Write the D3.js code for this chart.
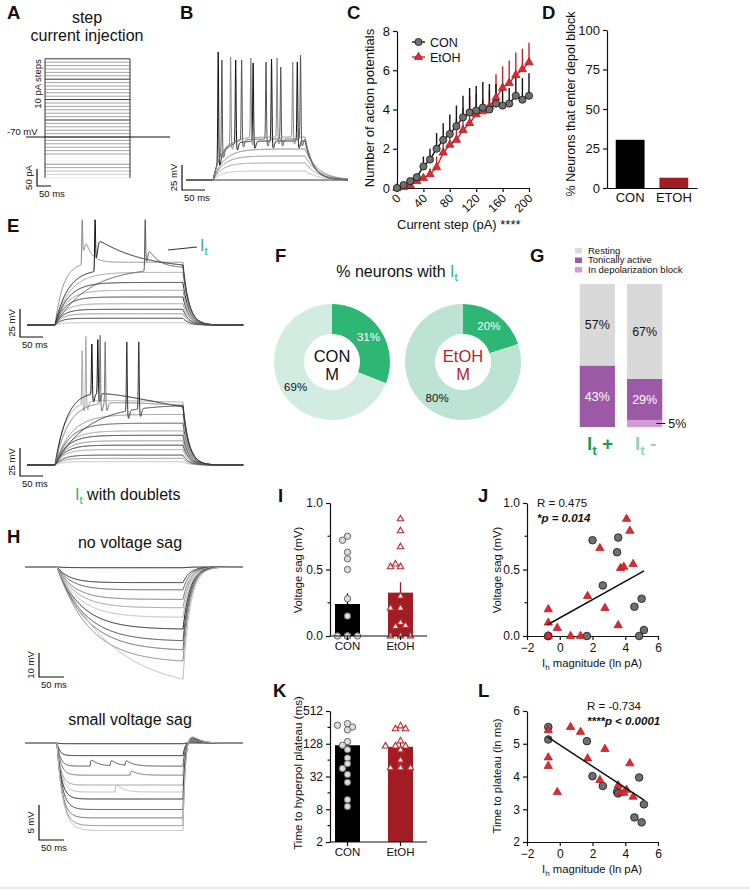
<!DOCTYPE html>
<html>
<head>
<meta charset="utf-8">
<script src="https://cdnjs.cloudflare.com/ajax/libs/d3/7.8.5/d3.min.js"></script>
<style>
  body { margin: 0; background: #fff; }
</style>
</head>
<body>
<script>
// ---------------- DATA ----------------
// A: step protocol (pA relative to holding)
var stepCurrents = [-120,-110,-100,-90,-80,-70,-60,-50,-40,-30,-20,-10,0,10,20,30,40,50,60,70,80,90,100,110,120,130,140,150,160,170,180,190,200,210,220,230];

// B: example firing traces (mV above rest, ms)
var bRestLevels = [0, 9, 17, 24, 31];
var bRestTau = [10, 18, 20, 22, 24];
var bFireLevels = [39, 41, 43];
var bFireTau = [18, 18, 20];
var bSpikeTimes = [[70, 108, 146, 186, 242], [78, 121, 174, 206, 249], [97, 141, 198, 232]];
var bSpikePeaks = [[128, 120, 117, 121, 118], [120, 120, 118, 113, 125], [123, 122, 122, 118]];

// C: number of action potentials per current step
var currentSteps = [0,10,20,30,40,50,60,70,80,90,100,110,120,130,140,150,160,170,180,190,200];
var conAP = [0,0.15,0.35,0.55,1.1,1.45,2.0,2.45,2.75,3.15,3.6,3.85,3.95,4.1,4.0,4.3,4.2,4.3,4.7,4.5,4.7];
var conAPsem = [0,0.05,0.15,0.15,0.5,0.55,0.8,0.85,1.0,1.05,1.1,1.25,1.25,1.3,1.3,1.0,1.1,0.8,1.2,1.1,1.15];
var etohAP = [0,0.05,0.15,0.35,0.5,0.7,1.05,1.8,2.2,2.45,2.95,3.3,3.75,3.9,4.15,4.6,5.1,5.35,5.75,6.05,6.4];
var etohAPsem = [0,0.05,0.1,0.15,0.2,0.3,0.55,0.8,0.8,1.05,1.15,1.4,1.05,0.6,0.85,1.2,1.1,1.15,1.15,1.05,1.0];

// D: depolarization block
var depolGroups = ["CON", "ETOH"];
var depolPct = [30.5, 6.5];

// E: It traces
var eTopLevels = [2, 6, 10, 14, 19, 25, 31, 38, 47];
var eTopTau = [12, 14, 16, 18, 20, 22, 25, 28, 32];
var eItLevels = [56, 50, 52];
var eItTau = [18, 28, 75];
var eItSpike = [120, 148, 257];
var eItPeak = [94, 94, 94];
var eItHump = [36, 30, 26];
var eItHumpDecay = [14, 90, 25];
var eBotLevels = [3, 6, 9, 14, 18, 22, 27, 31, 38, 46];
var eBotTau = [14, 16, 18, 20, 22, 24, 26, 28, 31, 35];
var eDblLevels = [60, 75, 60, 55];
var eDblTau = [22, 28, 30, 70];
var eDblSlope = [-0.01, -0.08, -0.02, 0];
var eDblSpikes = [[120, 128], [141, 154], [159, 170], [217, 243]];
var eDblPeaks = [[104, 118], [110, 114], [118, 112], [112, 112]];

// F: % neurons with It
var itGroups = ["CON", "EtOH"];
var itPct = [31, 20];

// G: firing state by It
var stateNames = ["Resting", "Tonically active", "In depolarization block"];
var itPlusPct = [57, 43, 0];
var itMinusPct = [67, 29, 5];

// H: hyperpolarizing steps (mV relative to rest)
var hTopLevels = [-0.3, -6.5, -9.5, -13.5, -17, -21, -26, -31, -35, -40, -52];
var hTopTau = [20, 25, 30, 35, 40, 45, 50, 55, 60, 65, 110];
var hBotLevels = [-0.1, -1.8, -3.3, -4.6, -6.0, -7.0, -8.0, -9.5, -10.7, -11.8, -12.5];
var hBotTau = [5, 6, 7, 8, 8, 9, 9, 10, 10, 11, 12];
var hBotRebound = [0, 0.3, 0.5, 0.6, 0.8, 0.9, 1.0, 1.2, 1.3, 1.4, 1.5];
var hBotBumps = [[], [], [[130, 1.2], [170, 1.0], [200, 0.9]], [[210, 0.8]], [], [[180, 1.4]], [], [], [], [], []];

// I: voltage sag (mV)
var sagCON = [0.75, 0.72, 0.63, 0.58, 0.5, 0.28, 0.15, 0, 0, 0, 0, 0, 0, 0, 0];
var sagEtOH = [0.88, 0.79, 0.67, 0.52, 0.52, 0.54, 0.30, 0.21, 0.21, 0.10, 0.07, 0.08, 0, 0, 0];

// J / L: Ih magnitude (ln pA) vs sag and ln time to plateau
var ihCON = [-0.7, -0.7, 1.66, 2.0, 2.63, 3.5, 3.57, 4.56, 4.85, 5.0, 5.14];
var sagByIhCON = [0, 0, 0, 0.72, 0.38, 0.63, 0.74, 0.22, 0, 0.28, 0.045];
var lnPlatCON = [5.51, 5.13, 5.08, 4.01, 3.71, 3.53, 3.48, 2.75, 3.97, 2.6, 3.15];
var ihEtOH = [4.08, 4.28, 2.45, 3.71, 3.91, 4.48, 1.70, 2.76, 3.57, -0.15, 0.66, 1.27, -0.7, -0.7, -0.7];
var sagByIhEtOH = [0.88, 0.79, 0.66, 0.51, 0.52, 0.54, 0.30, 0.21, 0.08, 0.06, 0, 0, 0.2, 0.1, 0];
var lnPlatEtOH = [3.59, 4.40, 3.89, 3.5, 3.5, 3.38, 4.55, 4.84, 3.73, 3.52, 5.51, 5.36, 5.41, 4.58, 4.32];
var fitJ = { slope: 0.0687, intercept: 0.136, from: -0.75, to: 5.15 };
var fitL = { slope: -0.327, intercept: 4.964, from: -0.75, to: 5.15 };

// K: time to hyperpolarized plateau (ms)
var platCON = [300, 280, 260, 230, 140, 120, 100, 70, 55, 45, 35, 25, 12, 9];
var platEtOH = [271, 240, 240, 144, 116, 116, 116, 98, 64, 50, 46, 46, 46, 46, 46];

// ---------------- LAYOUT ----------------
var FONT = '"Liberation Sans", Arial, Helvetica, sans-serif';
var GREEN = "#2db674", RED = "#e8262d", DARKRED = "#a21d23", TRI_STROKE = "#9b1b20";

var svg = d3.select("body").append("svg")
    .attr("width", 750)
    .attr("height", 890)
    .attr("font-family", FONT);

function label(x, y, s, size, anchor, extra) {
  var t = svg.append("text").attr("x", x).attr("y", y)
      .attr("font-size", size).attr("text-anchor", anchor || "start").attr("fill", "#111").text(s);
  if (extra) extra(t);
  return t;
}
function vlabel(x, y, s, size) {
  return svg.append("text").attr("transform", "translate(" + x + "," + y + ") rotate(-90)")
      .attr("font-size", size).attr("text-anchor", "middle").attr("fill", "#111").text(s);
}
function styleAxis(g, size) {
  g.attr("font-family", FONT);
  g.selectAll("path, line").attr("stroke", "#111").attr("stroke-width", 1.2);
  g.selectAll("text").attr("font-size", size).attr("fill", "#111");
}
function hline(x1, y1, x2, y2, color, w) {
  svg.append("line").attr("x1", x1).attr("y1", y1).attr("x2", x2).attr("y2", y2)
      .attr("stroke", color || "#111").attr("stroke-width", w || 1);
}
function scaleBar(cx, cy, h, w, vText, hText) {
  svg.append("path").attr("d", "M" + cx + "," + (cy - h) + "V" + cy + "H" + (cx + w))
      .attr("fill", "none").attr("stroke", "#111").attr("stroke-width", 1.2);
  vlabel(cx - 5, cy - h / 2, vText, 9.5);
  label(cx + 2, cy + 11, hText, 9.5);
}
// I with subscript t
function itText(x, y, size, color, suffix, weight) {
  var t = svg.append("text").attr("x", x).attr("y", y).attr("font-size", size)
      .attr("fill", color).attr("font-weight", weight || "normal");
  t.append("tspan").text("I");
  t.append("tspan").attr("dy", size * 0.28).attr("font-size", size * 0.72).text("t");
  if (suffix) t.append("tspan").attr("dy", -size * 0.28).text(suffix);
  return t;
}

// panel letters
[["A", 7, 19], ["B", 180, 19], ["C", 347, 19], ["D", 542, 19], ["E", 7, 232], ["F", 275, 262],
 ["G", 530, 262], ["H", 7, 543], ["I", 278, 502], ["J", 478, 502], ["K", 273, 697], ["L", 478, 697]]
  .forEach(function (p) {
    label(p[1], p[2], p[0], 18.5, "start", function (t) { t.attr("font-weight", "bold"); });
  });

// ---------------- TRACE MODEL ----------------
function makeTrace(cfg, p) {
  var spikes = p.spikes || [];
  var times = d3.range(0, cfg.tEnd + cfg.dt / 2, cfg.dt).concat(spikes).sort(d3.ascending);
  var tauOff = p.tauOff || cfg.tauOff;
  function slow(t) {
    if (t < cfg.tOn) return 0;
    var tt = Math.min(t, cfg.tOff), s = tt - cfg.tOn;
    var v = p.level * (1 - Math.exp(-s / p.tau)) + (p.slope || 0) * s;
    if (p.hump && spikes.length) {
      var u = tt - spikes[0];
      if (u > 0) v += p.hump * (1 - Math.exp(-u / 3)) * Math.exp(-u / p.humpDecay);
    }
    (p.bumps || []).forEach(function (b) {
      var u = tt - b[0];
      if (u > 0) v += b[1] * (1 - Math.exp(-u / 1.5)) * Math.exp(-u / 14);
    });
    return v;
  }
  var vOff = slow(cfg.tOff);
  return times.map(function (t) {
    var v;
    if (t <= cfg.tOff) v = slow(t);
    else {
      var u = t - cfg.tOff;
      v = vOff * Math.exp(-u / tauOff) + (p.rebound || 0) * (u / 10) * Math.exp(1 - u / 10);
    }
    spikes.forEach(function (s, i) {
      v += (p.peaks[i] - slow(s)) * Math.exp(-Math.pow((t - s) / 1.3, 2));
      if (t > s) v -= 7 * Math.exp(-Math.pow((t - s - 4) / 3, 2));
    });
    return [t, v];
  });
}
function drawTraces(cfg, list, colors) {
  var x = d3.scaleLinear().domain([0, cfg.tEnd]).range([cfg.x0, cfg.x0 + cfg.tEnd * cfg.pxPerMs]);
  var y = d3.scaleLinear().domain([0, 1]).range([cfg.base, cfg.base - cfg.pxPerMv]);
  var line = d3.line().x(function (d) { return x(d[0]); }).y(function (d) { return y(d[1]); });
  svg.append("g").selectAll("path").data(list).join("path")
      .attr("d", function (d) { return line(makeTrace(cfg, d)); })
      .attr("fill", "none")
      .attr("stroke", function (d, i) { return colors[i % colors.length]; })
      .attr("stroke-width", 1)
      .attr("stroke-linejoin", "round");
}

// ---------------- A: step protocol ----------------
label(87, 23, "step", 16, "middle");
label(87, 41, "current injection", 16, "middle");
var yA = d3.scaleLinear().domain([0, 230]).range([137, 58.8]);
var fadeA = d3.interpolateRgb("#888", "#e2e2e2");
svg.append("g").selectAll("line").data(stepCurrents).join("line")
    .attr("x1", 45).attr("x2", 130)
    .attr("y1", function (d) { return yA(d); }).attr("y2", function (d) { return yA(d); })
    .attr("stroke", function (d) {
      if (d === 50 || d === 110 || d === 170 || d === 230) return "#222";
      if (d === -60 || d === -70) return "#f4f4f4";
      if (d < -70) return fadeA((-80 - d) / 40);
      return "#9a9a9a";
    })
    .attr("stroke-width", 0.9);
hline(45, yA(230), 45, yA(-120), "#333", 1);
hline(130, yA(230), 130, yA(-120), "#333", 1);
hline(26, yA(0), 170, yA(0), "#111", 1.1);
label(7, 135, "-70 mV", 9.5);
vlabel(41, 84, "10 pA steps", 9.5);
scaleBar(37, 186, 17, 14, "50 pA", "50 ms");

// ---------------- B: firing traces ----------------
var cfgB = { x0: 186, pxPerMs: 0.46, tOn: 59, tOff: 259, tEnd: 352, base: 180, pxPerMv: 1, dt: 0.4, tauOff: 20 };
var bList = bRestLevels.map(function (lv, i) { return { level: lv, tau: bRestTau[i], tauOff: 28 }; })
  .concat(bFireLevels.map(function (lv, i) {
    return { level: lv, tau: bFireTau[i], spikes: bSpikeTimes[i], peaks: bSpikePeaks[i], tauOff: 18 };
  }));
drawTraces(cfgB, bList, ["#111", "#bbb", "#999", "#888", "#777", "#111", "#555", "#888"]);
scaleBar(182, 190, 25, 23, "25 mV", "50 ms");

// ---------------- C: AP counts ----------------
var xC = d3.scaleLinear().domain([0, 200]).range([397, 529]);
var yC = d3.scaleLinear().domain([0, 8]).range([188, 31]);
var gCy = svg.append("g").attr("transform", "translate(397,0)")
    .call(d3.axisLeft(yC).tickValues([0, 2, 4, 6, 8]).tickSize(4).tickSizeOuter(0));
styleAxis(gCy, 13);
var gCx = svg.append("g").attr("transform", "translate(0,188)")
    .call(d3.axisBottom(xC).tickValues([0, 40, 80, 120, 160, 200]).tickSize(4).tickSizeOuter(0));
styleAxis(gCx, 12);
gCx.selectAll("text").attr("dy", 0).attr("x", 4).attr("y", 11)
    .attr("text-anchor", "end").attr("transform", "rotate(-45,4,11)");
vlabel(374, 108, "Number of action potentials", 13);
label(397, 229, "Current step (pA) ****", 13);

var cSeries = [
  { mean: etohAP, sem: etohAPsem, line: "#d1242a", err: "#c1272d", tri: true },
  { mean: conAP, sem: conAPsem, line: "#111", err: "#111", tri: false }
];
cSeries.forEach(function (s) {
  svg.append("g").selectAll("line").data(currentSteps).join("line")
      .attr("x1", function (d) { return xC(d); }).attr("x2", function (d) { return xC(d); })
      .attr("y1", function (d, i) { return yC(s.mean[i]); })
      .attr("y2", function (d, i) { return yC(s.mean[i] + s.sem[i]); })
      .attr("stroke", s.err).attr("stroke-width", 1.4);
});
cSeries.forEach(function (s) {
  svg.append("path").datum(currentSteps)
      .attr("d", d3.line().x(function (d) { return xC(d); }).y(function (d, i) { return yC(s.mean[i]); }))
      .attr("fill", "none").attr("stroke", s.line).attr("stroke-width", 1.4);
  var g = svg.append("g");
  if (s.tri) {
    g.selectAll("path").data(currentSteps).join("path")
        .attr("d", d3.symbol(d3.symbolTriangle).size(30))
        .attr("transform", function (d, i) { return "translate(" + xC(d) + "," + yC(s.mean[i]) + ")"; })
        .attr("fill", RED).attr("stroke", TRI_STROKE).attr("stroke-width", 0.7);
  } else {
    g.selectAll("circle").data(currentSteps).join("circle")
        .attr("cx", function (d) { return xC(d); }).attr("cy", function (d, i) { return yC(s.mean[i]); })
        .attr("r", 3.6).attr("fill", "#707070").attr("stroke", "#111").attr("stroke-width", 0.8);
  }
});
// legend
hline(412, 42, 425, 42, "#111", 1.4);
svg.append("circle").attr("cx", 418.5).attr("cy", 42).attr("r", 3.6).attr("fill", "#707070").attr("stroke", "#111").attr("stroke-width", 0.8);
label(430, 46.5, "CON", 12.5);
hline(412, 57, 425, 57, "#d1242a", 1.4);
svg.append("path").attr("d", d3.symbol(d3.symbolTriangle).size(30)).attr("transform", "translate(418.5,57)")
    .attr("fill", RED).attr("stroke", TRI_STROKE).attr("stroke-width", 0.7);
label(430, 61.5, "EtOH", 12.5);

// ---------------- D: depol block ----------------
var xD = d3.scaleBand().domain(depolGroups).range([607, 697]).paddingInner(0.34).paddingOuter(0.2);
var yD = d3.scaleLinear().domain([0, 100]).range([188, 30]);
svg.append("g").selectAll("rect").data(depolGroups).join("rect")
    .attr("x", function (d) { return xD(d); }).attr("width", xD.bandwidth())
    .attr("y", function (d, i) { return yD(depolPct[i]); })
    .attr("height", function (d, i) { return 188 - yD(depolPct[i]); })
    .attr("fill", function (d, i) { return i === 0 ? "#000" : DARKRED; });
var gDy = svg.append("g").attr("transform", "translate(607,0)")
    .call(d3.axisLeft(yD).tickValues([0, 25, 50, 75, 100]).tickSize(4).tickSizeOuter(0));
styleAxis(gDy, 13);
var gDx = svg.append("g").attr("transform", "translate(0,188)")
    .call(d3.axisBottom(xD).tickSize(0).tickSizeOuter(0));
styleAxis(gDx, 13);
gDx.selectAll("text").attr("y", 5);
vlabel(575, 104, "% Neurons that enter depol block", 12.5);

// ---------------- E: It traces ----------------
var cfgE1 = { x0: 27, pxPerMs: 0.46, tOn: 61, tOff: 339, tEnd: 470, base: 325, pxPerMv: 1.12, dt: 0.5, tauOff: 13 };
var eTopList = eTopLevels.map(function (lv, i) { return { level: lv, tau: eTopTau[i] }; })
  .concat(eItLevels.map(function (lv, i) {
    return { level: lv, tau: eItTau[i], spikes: [eItSpike[i]], peaks: [eItPeak[i]],
             hump: eItHump[i], humpDecay: eItHumpDecay[i] };
  }));
drawTraces(cfgE1, eTopList, ["#bbb", "#222", "#888", "#222", "#999", "#333", "#999", "#222", "#999", "#888", "#111", "#555"]);
hline(168, 250, 197, 247, "#333", 1);
itText(200, 251, 16, GREEN);
scaleBar(20, 337, 28, 23, "25 mV", "50 ms");

var cfgE2 = { x0: 27, pxPerMs: 0.46, tOn: 61, tOff: 339, tEnd: 470, base: 465, pxPerMv: 1.1, dt: 0.5, tauOff: 13 };
var eBotList = eBotLevels.map(function (lv, i) { return { level: lv, tau: eBotTau[i] }; })
  .concat(eDblLevels.map(function (lv, i) {
    return { level: lv, tau: eDblTau[i], slope: eDblSlope[i], spikes: eDblSpikes[i], peaks: eDblPeaks[i] };
  }));
drawTraces(cfgE2, eBotList, ["#bbb", "#888", "#333", "#999", "#222", "#888", "#222", "#999", "#444", "#888", "#aaa", "#111", "#777", "#333"]);
scaleBar(20, 476, 28, 23, "25 mV", "50 ms");
var tDbl = itText(75, 500, 16, GREEN);
tDbl.append("tspan").attr("dy", -16 * 0.28).attr("fill", "#111").text(" with doublets");

// ---------------- F: donuts ----------------
label(397, 277, "% neurons with ", 16, "middle", function (t) {
  t.append("tspan").attr("fill", GREEN).text("I");
  t.append("tspan").attr("fill", GREEN).attr("dy", 4).attr("font-size", 11.5).text("t");
});
var pie = d3.pie().sort(null);
var arcF = d3.arc().innerRadius(28).outerRadius(58);
var arcLab = d3.arc().innerRadius(44).outerRadius(44);
var donutX = [332, 463], lightF = ["#d3ece2", "#bde3d5"], centerCol = ["#111", "#b5252c"];
itGroups.forEach(function (grp, gi) {
  var arcs = pie([itPct[gi], 100 - itPct[gi]]);
  var g = svg.append("g").attr("transform", "translate(" + donutX[gi] + ",362)");
  g.selectAll("path").data(arcs).join("path")
      .attr("d", arcF).attr("fill", function (d, i) { return i === 0 ? GREEN : lightF[gi]; });
  g.selectAll("text.pct").data(arcs).join("text").attr("class", "pct")
      .attr("transform", function (d) { return "translate(" + arcLab.centroid(d) + ")"; })
      .attr("dy", "0.35em").attr("text-anchor", "middle").attr("font-size", 11.5)
      .attr("fill", function (d, i) { return i === 0 ? "#fff" : "#111"; })
      .text(function (d) { return d.data + "%"; });
  g.append("text").attr("y", 0).attr("text-anchor", "middle").attr("font-size", 16.5)
      .attr("fill", centerCol[gi]).text(grp);
  g.append("text").attr("y", 17.5).attr("text-anchor", "middle").attr("font-size", 16.5)
      .attr("fill", centerCol[gi]).text("M");
});

// ---------------- G: stacked state bars ----------------
var stateColors = ["#d9d9d9", "#9b59a6", "#d39bd6"];
stateNames.forEach(function (s, i) {
  svg.append("rect").attr("x", 575).attr("y", 248 + i * 9.5).attr("width", 7).attr("height", 5.5).attr("fill", stateColors[i]);
  label(588, 253.5 + i * 9.5, s, 9.5);
});
var xG = d3.scaleBand().domain(["plus", "minus"]).range([575, 667]).paddingInner(0.255).paddingOuter(0.1);
var yG = d3.scaleLinear().domain([0, 100]).range([427, 284]);
[itPlusPct, itMinusPct].forEach(function (vals, bi) {
  var bx = xG(bi === 0 ? "plus" : "minus"), bw = xG.bandwidth(), tot = d3.sum(vals);
  var order = [2, 1, 0], cum = 0;
  order.forEach(function (k) {
    var y0 = yG(cum / tot * 100), y1 = yG((cum + vals[k]) / tot * 100);
    cum += vals[k];
    if (!vals[k]) return;
    svg.append("rect").attr("x", bx).attr("width", bw).attr("y", y1).attr("height", y0 - y1).attr("fill", stateColors[k]);
    if (k < 2) {
      label(bx + bw / 2, (y0 + y1) / 2 + 4.5, vals[k] + "%", 12.5, "middle",
            function (t) { t.attr("fill", k === 1 ? "#fff" : "#111"); });
    } else {
      hline(bx + bw - 6, (y0 + y1) / 2, bx + bw + 3, (y0 + y1) / 2, "#111", 1);
      label(bx + bw + 6, (y0 + y1) / 2 + 4.5, vals[k] + "%", 12.5);
    }
  });
});
itText(587, 450, 19, "#17a05b", " +", "bold");
itText(635, 450, 19, "#8dd5b5", " -", "bold");

// ---------------- H: hyperpolarizing traces ----------------
label(130, 548, "no voltage sag", 16, "middle");
var cfgH1 = { x0: 25, pxPerMs: 0.5, tOn: 64, tOff: 316, tEnd: 436, base: 567, pxPerMv: 2.4, dt: 1, tauOff: 14 };
drawTraces(cfgH1, hTopLevels.map(function (lv, i) { return { level: lv, tau: hTopTau[i] }; }),
    ["#111", "#222", "#555", "#777", "#999", "#bbb", "#222", "#444", "#666", "#888", "#bbb"]);
scaleBar(39, 677, 24, 25, "10 mV", "50 ms");

label(130, 725, "small voltage sag", 16, "middle");
var cfgH2 = { x0: 25, pxPerMs: 0.5, tOn: 64, tOff: 316, tEnd: 436, base: 743, pxPerMv: 7, dt: 1, tauOff: 5 };
drawTraces(cfgH2, hBotLevels.map(function (lv, i) {
  return { level: lv, tau: hBotTau[i], rebound: hBotRebound[i], bumps: hBotBumps[i] };
}), ["#111", "#222", "#555", "#777", "#999", "#bbb", "#222", "#444", "#666", "#888", "#bbb"]);
scaleBar(39, 840, 35, 25, "5 mV", "50 ms");

// ---------------- I & K: bar + dots ----------------
function swarm(values, y, cx, step, minD) {
  var placed = [];
  return values.map(function (v) {
    var py = y(v), offs = [0, -step, step, -2 * step, 2 * step, -3 * step, 3 * step], px = cx;
    for (var i = 0; i < offs.length; i++) {
      var cand = cx + offs[i];
      var ok = placed.every(function (q) { return Math.hypot(q[0] - cand, q[1] - py) >= minD; });
      if (ok) { px = cand; break; }
    }
    placed.push([px, py]);
    return [px, py];
  });
}
function barDotPanel(yScale, yBase, groupsVals, yTicks, minor, fmt, yText, yMid, ySize) {
  var xB = d3.scaleBand().domain(itGroups).range([330, 427]).paddingInner(0.528).paddingOuter(0.179).align(0.263);
  var bw = xB.bandwidth();
  groupsVals.forEach(function (vals, gi) {
    var m = d3.mean(vals), sem = d3.deviation(vals) / Math.sqrt(vals.length);
    var bx = xB(itGroups[gi]);
    svg.append("rect").attr("x", bx).attr("width", bw).attr("y", yScale(m)).attr("height", yBase - yScale(m))
        .attr("fill", gi === 0 ? "#000" : DARKRED);
    hline(bx + bw / 2, yScale(m), bx + bw / 2, yScale(m + sem), gi === 0 ? "#000" : DARKRED, 1.3);
    var pts = swarm(vals, yScale, bx + bw / 2, 5, 5.5);
    var g = svg.append("g");
    if (gi === 0) {
      g.selectAll("circle").data(pts).join("circle")
          .attr("cx", function (d) { return d[0]; }).attr("cy", function (d) { return d[1]; })
          .attr("r", 3.2).attr("fill", "#dcdcdc").attr("stroke", "#666").attr("stroke-width", 1);
    } else {
      g.selectAll("path").data(pts).join("path")
          .attr("d", d3.symbol(d3.symbolTriangle).size(18))
          .attr("transform", function (d) { return "translate(" + d[0] + "," + d[1] + ")"; })
          .attr("fill", "#fff").attr("stroke", "#c1272d").attr("stroke-width", 1.1);
    }
  });
  var gy = svg.append("g").attr("transform", "translate(330,0)")
      .call(d3.axisLeft(yScale).tickValues(yTicks).tickFormat(fmt).tickSize(4).tickSizeOuter(0));
  styleAxis(gy, 12);
  svg.append("g").selectAll("line").data(minor).join("line")
      .attr("x1", 327.5).attr("x2", 330).attr("y1", function (d) { return yScale(d); }).attr("y2", function (d) { return yScale(d); })
      .attr("stroke", "#111").attr("stroke-width", 1.2);
  var gx = svg.append("g").attr("transform", "translate(0," + yBase + ")")
      .call(d3.axisBottom(xB).tickSize(4).tickSizeOuter(0));
  styleAxis(gx, 11.5);
  gx.select(".domain").attr("d", "M330,0H427");
  gx.selectAll("text").attr("y", 6);
  vlabel(302, yMid, yText, ySize);
}
var yI = d3.scaleLinear().domain([0, 1]).range([636, 503]);
barDotPanel(yI, 636, [sagCON, sagEtOH], [0, 0.5, 1], [0.25, 0.75], d3.format(".1f"), "Voltage sag (mV)", 570, 11.3);
var yK = d3.scaleLog().base(2).domain([2, 512]).range([842, 711]);
barDotPanel(yK, 842, [platCON, platEtOH], [2, 8, 32, 128, 512], [4, 16, 64, 256], d3.format("d"), "Time to hyperpol plateau (ms)", 773, 11.6);

// ---------------- J & L: scatter + fit ----------------
var xJ = d3.scaleLinear().domain([-2, 6]).range([527, 658]);
function scatterPanel(yScale, yBase, conY, etohY, fit, yTicks, minor, fmt, yText, yMid, rText, pText, textX, textY) {
  var gy = svg.append("g").attr("transform", "translate(527,0)")
      .call(d3.axisLeft(yScale).tickValues(yTicks).tickFormat(fmt).tickSize(4).tickSizeOuter(0));
  styleAxis(gy, 12);
  svg.append("g").selectAll("line").data(minor).join("line")
      .attr("x1", 524.5).attr("x2", 527).attr("y1", function (d) { return yScale(d); }).attr("y2", function (d) { return yScale(d); })
      .attr("stroke", "#111").attr("stroke-width", 1.2);
  var gx = svg.append("g").attr("transform", "translate(0," + yBase + ")")
      .call(d3.axisBottom(xJ).tickValues([-2, 0, 2, 4, 6]).tickSize(4).tickSizeOuter(0));
  styleAxis(gx, 12);
  svg.append("g").selectAll("circle").data(ihCON).join("circle")
      .attr("cx", function (d) { return xJ(d); }).attr("cy", function (d, i) { return yScale(conY[i]); })
      .attr("r", 3.8).attr("fill", "#6f6f6f").attr("stroke", "#222").attr("stroke-width", 0.9);
  svg.append("g").selectAll("path").data(ihEtOH).join("path")
      .attr("d", d3.symbol(d3.symbolTriangle).size(30))
      .attr("transform", function (d, i) { return "translate(" + xJ(d) + "," + yScale(etohY[i]) + ")"; })
      .attr("fill", RED).attr("stroke", TRI_STROKE).attr("stroke-width", 0.7);
  hline(xJ(fit.from), yScale(fit.intercept + fit.slope * fit.from),
        xJ(fit.to), yScale(fit.intercept + fit.slope * fit.to), "#111", 1.5);
  vlabel(501, yMid, yText, 11.3);
  var xl = label(592, yBase + 31, "I", 11.3, "middle");
  xl.append("tspan").attr("dy", 3).attr("font-size", 8).text("h");
  xl.append("tspan").attr("dy", -3).text(" magnitude (ln pA)");
  label(textX, textY, rText, 11.5);
  label(textX, textY + 14.5, pText, 11.5, "start", function (t) {
    t.attr("font-weight", "bold").attr("font-style", "italic");
  });
}
var yJ = d3.scaleLinear().domain([0, 1]).range([636, 503]);
scatterPanel(yJ, 636, sagByIhCON, sagByIhEtOH, fitJ, [0, 0.5, 1], [0.25, 0.75], d3.format(".1f"),
    "Voltage sag (mV)", 570, "R = 0.475", "*p = 0.014", 537, 507);
var yL = d3.scaleLinear().domain([2, 6]).range([842, 711]);
scatterPanel(yL, 842, lnPlatCON, lnPlatEtOH, fitL, [2, 3, 4, 5, 6], [], d3.format("d"),
    "Time to plateau (ln ms)", 776, "R = -0.734", "****p < 0.0001", 587, 710);

// bottom edge line
hline(0, 888, 750, 888, "#d6d6d6", 1);
</script>
</body>
</html>
